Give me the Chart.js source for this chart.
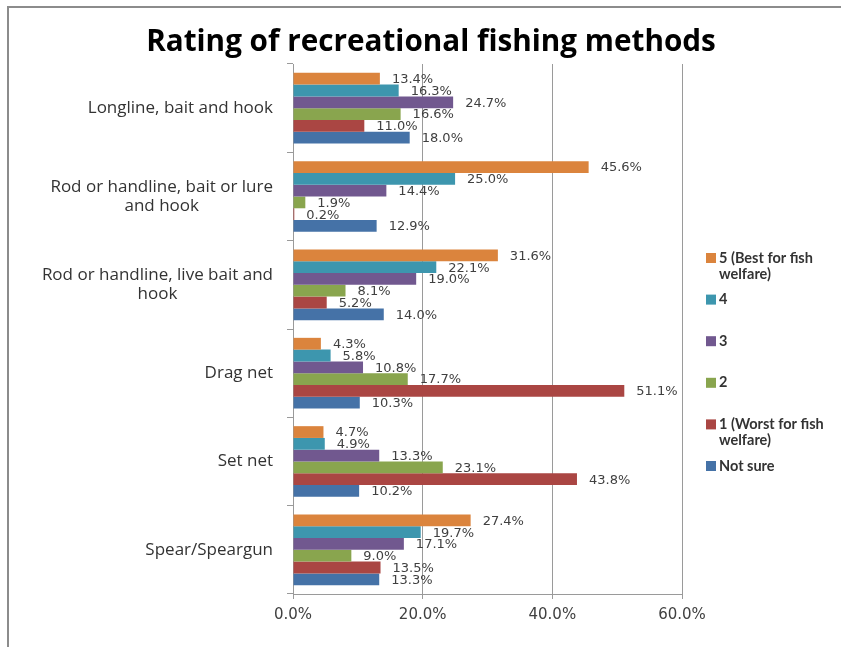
<!DOCTYPE html>
<html lang="en">
<head>
<meta charset="UTF-8">
<title>Rating of recreational fishing methods</title>
<script src="https://cdn.jsdelivr.net/npm/chart.js"></script>
<style>
  html, body { margin: 0; padding: 0; background: #fff; }
  #wrap { position: relative; width: 841px; height: 647px; }
</style>
</head>
<body>
<div id="wrap"><canvas id="chart"></canvas></div>
<script>
// fishing methods, top to bottom
var methods = ['Longline, bait and hook', 'Rod or handline, bait or lure and hook',
    'Rod or handline, live bait and hook', 'Drag net', 'Set net', 'Spear/Speargun'];
// how the method names break on the axis
var methodLines = [
    ['Longline, bait and hook'],
    ['Rod or handline, bait or lure', 'and hook'],
    ['Rod or handline, live bait and', 'hook'],
    ['Drag net'],
    ['Set net'],
    ['Spear/Speargun']
];

// percent of answers per rating (same order as methods)
var rating5 = [13.4, 45.6, 31.6, 4.3, 4.7, 27.4];
var rating4 = [16.3, 25.0, 22.1, 5.8, 4.9, 19.7];
var rating3 = [24.7, 14.4, 19.0, 10.8, 13.3, 17.1];
var rating2 = [16.6, 1.9, 8.1, 17.7, 23.1, 9.0];
var rating1 = [11.0, 0.2, 5.2, 51.1, 43.8, 13.5];
var notSure = [18.0, 12.9, 14.0, 10.3, 10.2, 13.3];

var ratingNames = ['5 (Best for fish welfare)', '4', '3', '2', '1 (Worst for fish welfare)', 'Not sure'];
var legendLines = [['5 (Best for fish', 'welfare)'], ['4'], ['3'], ['2'], ['1 (Worst for fish', 'welfare)'], ['Not sure']];
var xTicks = [0, 20, 40, 60];

var titleText = 'Rating of recreational fishing methods';
var colors = ['#DB843D', '#3D96AE', '#71588F', '#89A54E', '#AA4643', '#4572A7'];

var seriesData = [rating5, rating4, rating3, rating2, rating1, notSure];
var datasets = seriesData.map(function (vals, i) {
    return {
        label: ratingNames[i],
        data: vals,
        backgroundColor: colors[i],
        borderWidth: 0,
        categoryPercentage: 0.8,
        barPercentage: 1.0
    };
});

// frame, title, axis names, value labels and legend
var decor = {
    id: 'decor',
    beforeDraw: function (chart) {
        var ctx = chart.ctx;
        ctx.save();
        ctx.fillStyle = '#fff';
        ctx.fillRect(0, 0, chart.width, chart.height);
        ctx.fillStyle = '#8c8c8c';
        ctx.fillRect(7, 6, 2, chart.height - 6);
        ctx.fillRect(7, 6, chart.width - 7, 2);
        ctx.restore();
    },
    afterDraw: function (chart) {
        var ctx = chart.ctx;
        var yScale = chart.scales.y;
        var area = chart.chartArea;
        ctx.save();

        ctx.font = 'bold 29.7px "Open Sans"';
        ctx.fillStyle = '#000';
        ctx.textAlign = 'center';
        ctx.textBaseline = 'alphabetic';
        ctx.fillText(titleText, 431, 51);

        ctx.font = '17px "Open Sans"';
        ctx.fillStyle = '#333';
        ctx.textBaseline = 'middle';
        methodLines.forEach(function (lines, i) {
            var yc = yScale.getPixelForTick(i);
            var w = Math.max.apply(null, lines.map(function (l) { return ctx.measureText(l).width; }));
            var cx = area.left - 20 - w / 2;
            lines.forEach(function (line, k) {
                ctx.fillText(line, cx, yc + (k - (lines.length - 1) / 2) * 19);
            });
        });

        ctx.font = '13px "DejaVu Sans"';
        ctx.fillStyle = '#404040';
        ctx.textAlign = 'left';
        chart.data.datasets.forEach(function (ds, di) {
            chart.getDatasetMeta(di).data.forEach(function (bar, i) {
                ctx.fillText(ds.data[i].toFixed(1) + '%', bar.x + 12, bar.y + 1);
            });
        });

        ctx.font = 'bold 14.5px Lato';
        legendLines.forEach(function (lines, i) {
            var y = 258 + i * 41.6;
            ctx.fillStyle = chart.data.datasets[i].backgroundColor;
            ctx.fillRect(706, y - 5, 10, 10);
            ctx.fillStyle = '#333';
            lines.forEach(function (l, k) {
                ctx.fillText(l, 719, y + k * 16);
            });
        });
        ctx.restore();
    }
};

new Chart(document.getElementById('chart'), {
    type: 'bar',
    data: { labels: methods, datasets: datasets },
    plugins: [decor],
    options: {
        indexAxis: 'y',
        responsive: true,
        maintainAspectRatio: false,
        animation: false,
        layout: { padding: { left: 10, right: 159, top: 64, bottom: 0 } },
        plugins: {
            legend: { display: false },
            title: { display: false },
            tooltip: { enabled: false }
        },
        scales: {
            x: {
                min: 0,
                max: 60,
                afterBuildTicks: function (s) {
                    s.ticks = xTicks.map(function (v) { return { value: v }; });
                },
                afterFit: function (s) { s.height = 53; },
                grid: { color: '#9a9a9a', tickLength: 5 },
                border: { color: '#9a9a9a' },
                ticks: {
                    padding: 7,
                    maxRotation: 0,
                    color: '#404040',
                    font: { family: 'DejaVu Sans', size: 15 },
                    callback: function (v) { return v.toFixed(1) + '%'; }
                }
            },
            y: {
                afterFit: function (s) { s.width = 283; },
                grid: { drawOnChartArea: false, color: '#9a9a9a', tickLength: 6 },
                border: { color: '#9a9a9a' },
                ticks: { display: false }
            }
        }
    }
});
</script>
</body>
</html>
